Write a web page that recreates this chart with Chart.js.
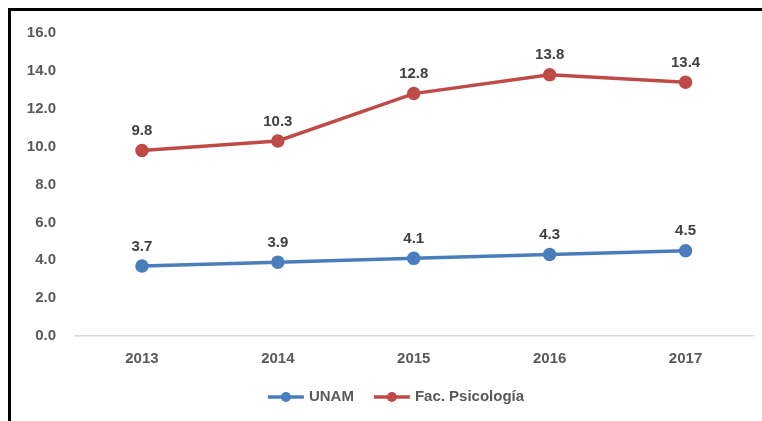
<!DOCTYPE html>
<html>
<head>
<meta charset="utf-8">
<script src="https://cdn.jsdelivr.net/npm/chart.js@4/dist/chart.umd.min.js"></script>
<style>
  body { margin: 0; background: #fff; }
  #wrap { position: relative; width: 762px; height: 421px; }
  #frame { position: absolute; left: 8px; top: 8px; right: 0; bottom: 0;
           border-top: 3px solid #000; border-left: 3px solid #000; pointer-events: none; }
</style>
</head>
<body>
<div id="wrap">
  <canvas id="chart" width="762" height="421"></canvas>
  <div id="frame"></div>
</div>
<script>
const years = ["2013", "2014", "2015", "2016", "2017"];
const unam = [3.7, 3.9, 4.1, 4.3, 4.5];
const psicologia = [9.8, 10.3, 12.8, 13.8, 13.4];
const seriesNames = ["UNAM", "Fac. Psicología"];
const seriesColors = ["#4a7ebb", "#be4b48"];

const FONT = "'Liberation Sans', Arial, sans-serif";

// value labels above each point
const pointLabels = {
  id: "pointLabels",
  afterDatasetsDraw(chart) {
    const ctx = chart.ctx;
    ctx.save();
    ctx.font = "bold 15px " + FONT;
    ctx.fillStyle = "#404040";
    ctx.textAlign = "center";
    ctx.textBaseline = "bottom";
    chart.data.datasets.forEach((ds, i) => {
      chart.getDatasetMeta(i).data.forEach((pt, j) => {
        ctx.fillText(ds.data[j].toFixed(1), pt.x, pt.y - 12);
      });
    });
    ctx.restore();
  }
};

// legend drawn as line + dot, like the office chart
const lineLegend = {
  id: "lineLegend",
  afterDraw(chart) {
    const ctx = chart.ctx;
    ctx.save();
    ctx.font = "bold 15px " + FONT;
    const items = chart.data.datasets.map(ds => ({
      text: ds.label, color: ds.borderColor, w: ctx.measureText(ds.label).width
    }));
    const sym = 36, gap = 5, between = 20;
    let total = 0;
    items.forEach((it, i) => { total += sym + gap + it.w + (i ? between : 0); });
    let x = chart.width / 2 + 15 - total / 2;
    const y = 397;
    items.forEach(it => {
      ctx.strokeStyle = it.color;
      ctx.lineWidth = 3.5;
      ctx.beginPath();
      ctx.moveTo(x, y);
      ctx.lineTo(x + sym, y);
      ctx.stroke();
      ctx.fillStyle = it.color;
      ctx.beginPath();
      ctx.arc(x + sym / 2, y, 5, 0, Math.PI * 2);
      ctx.fill();
      ctx.fillStyle = "#595959";
      ctx.textBaseline = "middle";
      ctx.textAlign = "left";
      ctx.fillText(it.text, x + sym + gap, y);
      x += sym + gap + it.w + between;
    });
    ctx.restore();
  }
};

new Chart(document.getElementById("chart"), {
  type: "line",
  data: {
    labels: years,
    datasets: [
      {
        label: seriesNames[0],
        data: unam,
        borderColor: seriesColors[0],
        backgroundColor: seriesColors[0],
        borderWidth: 3.5,
        pointRadius: 5,
        pointHoverRadius: 5,
        tension: 0
      },
      {
        label: seriesNames[1],
        data: psicologia,
        borderColor: seriesColors[1],
        backgroundColor: seriesColors[1],
        borderWidth: 3.5,
        pointRadius: 5,
        pointHoverRadius: 5,
        tension: 0
      }
    ]
  },
  options: {
    responsive: false,
    animation: false,
    layout: { padding: { left: 20, right: 6, top: 33, bottom: 39 } },
    scales: {
      y: {
        min: 0,
        max: 16,
        ticks: {
          stepSize: 2,
          padding: 18,
          color: "#595959",
          font: { family: FONT, size: 15, weight: "bold" },
          callback: v => v.toFixed(1)
        },
        grid: {
          drawTicks: false,
          color: c => (c.tick && c.tick.value === 0 ? "#d9d9d9" : "rgba(0,0,0,0)"),
          lineWidth: 1.5
        },
        border: { display: false },
        afterFit: s => { s.width = 54; }
      },
      x: {
        offset: true,
        ticks: {
          padding: 14,
          color: "#595959",
          font: { family: FONT, size: 15, weight: "bold" }
        },
        grid: { display: false, drawTicks: false },
        border: { display: false }
      }
    },
    plugins: {
      legend: { display: false },
      tooltip: { enabled: false }
    }
  },
  plugins: [pointLabels, lineLegend]
});
</script>
</body>
</html>
